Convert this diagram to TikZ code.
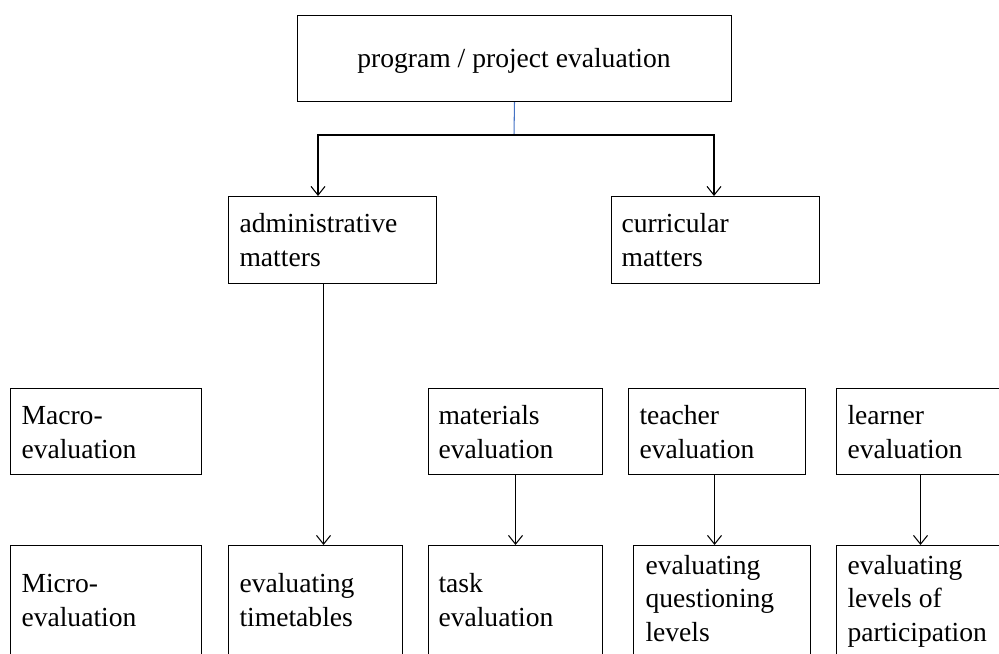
\documentclass[tikz,border=0pt]{standalone}
\usepackage{fontspec}
\setmainfont{Liberation Serif}
\usetikzlibrary{arrows.meta}
\definecolor{linkblue}{RGB}{68,114,196}

\begin{document}
\begin{tikzpicture}
[x=0.02cm,y=-0.02cm,line width=0.6pt,%
  box/.style={draw,rectangle,inner sep=0pt,anchor=north west},
  lbl/.style={anchor=base west,align=left,inner sep=0pt},
  arr/.style={-{Straight Barb[length=5pt,width=8pt]}}]
\fontsize{15.7}{18.8}\selectfont
\useasboundingbox (0,0) rectangle (999,653);
\clip (0,0) rectangle (999,653);
\node[box,minimum width=8.68cm,minimum height=1.72cm] (prog) at (297,15) {};
\node[box,minimum width=4.16cm,minimum height=1.74cm] (adm) at (228,196) {};
\node[box,minimum width=4.16cm,minimum height=1.74cm] (cur) at (611,196) {};
\node[box,minimum width=3.82cm,minimum height=1.72cm] (macro) at (10,388) {};
\node[box,minimum width=3.48cm,minimum height=1.72cm] (mat) at (428,388) {};
\node[box,minimum width=3.54cm,minimum height=1.72cm] (tea) at (628,388) {};
\node[box,minimum width=3.48cm,minimum height=1.72cm] (lea) at (836,388) {};
\node[box,minimum width=3.82cm,minimum height=3.1cm] (micro) at (10,545) {};
\node[box,minimum width=3.48cm,minimum height=3.1cm] (time) at (228,545) {};
\node[box,minimum width=3.48cm,minimum height=3.1cm] (task) at (428,545) {};
\node[box,minimum width=3.54cm,minimum height=3.1cm] (ques) at (633,545) {};
\node[box,minimum width=3.48cm,minimum height=3.1cm] (part) at (836,545) {};
% base anchor sits on the last line
\node[lbl,anchor=base] (progt) at (514,67) {program / project evaluation};
\node[lbl] (admt) at (239,266) {administrative\\matters};
\node[lbl] (curt) at (621,266) {curricular\\matters};
\node[lbl] (macrot) at (21,458) {Macro-\\evaluation};
\node[lbl] (matt) at (438,458) {materials\\evaluation};
\node[lbl] (teat) at (639,458) {teacher\\evaluation};
\node[lbl] (leat) at (847,458) {learner\\evaluation};
\node[lbl] (microt) at (21,626) {Micro-\\evaluation};
\node[lbl] (timet) at (239,626) {evaluating\\timetables};
\node[lbl] (taskt) at (438,626) {task\\evaluation};
\node[lbl] (quest) at (645,641) {evaluating\\questioning\\levels};
\node[lbl] (partt) at (847,641) {evaluating\\levels of\\participation};
\coordinate (split) at (514,135);
\coordinate (jl) at (318,135);
\coordinate (jr) at (714,135);
\draw[linkblue] (prog.south) -- (split);
\draw[arr] (split) -- (jl) -- (jl |- adm.north);
\draw[arr] (split) -- (jr) -- (jr |- cur.north);
\draw[arr] ([xshift=-0.18cm]adm.south) -- ([xshift=-0.18cm]adm.south |- time.north);
\draw[arr] (mat.south) -- (task.north);
\draw[arr] ([xshift=-0.05cm]tea.south) -- ([xshift=-0.05cm]tea.south |- ques.north);
\draw[arr] ([xshift=-0.06cm]lea.south) -- ([xshift=-0.06cm]lea.south |- part.north);
\end{tikzpicture}
\end{document}
